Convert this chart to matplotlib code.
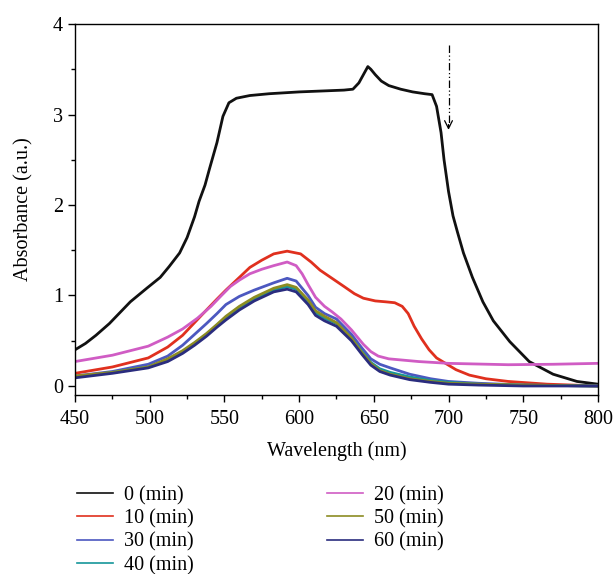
import matplotlib.pyplot as plt
from matplotlib.lines import Line2D
from matplotlib.ticker import MultipleLocator

plt.rcParams['font.family'] = ['Liberation Serif', 'DejaVu Serif']

# spectra (wavelength in nm, absorbance in a.u.)
black_x = [450, 457, 464, 473, 480, 487, 498, 507, 513, 520, 525, 530, 533, 537, 540, 545, 549, 553, 558, 567, 580,
           600, 615, 630, 636, 640, 643, 646, 648, 651, 655, 660, 668, 676, 684, 689, 692, 695, 697,
           700, 703, 706, 710, 716, 723, 730, 741, 754, 770, 786, 800]
black_y = [0.40, 0.47, 0.56, 0.69, 0.81, 0.93, 1.08, 1.20, 1.32, 1.47, 1.64, 1.87, 2.04, 2.22, 2.40, 2.69, 2.98, 3.13, 3.18, 3.21, 3.23,
           3.25, 3.26, 3.27, 3.28, 3.35, 3.44, 3.53, 3.50, 3.44, 3.37, 3.32, 3.28, 3.25, 3.23, 3.22, 3.09, 2.80, 2.50,
           2.15, 1.88, 1.70, 1.47, 1.20, 0.93, 0.72, 0.49, 0.27, 0.13, 0.05, 0.02]

red_x = [450, 475, 499, 512, 522, 530, 538, 545, 551, 560, 567, 575, 583, 592, 601, 608, 614, 622, 630, 637,
         643, 651, 658, 664, 669, 673, 677, 682, 687, 692, 698, 705, 714, 725, 740, 766, 800]
red_y = [0.14, 0.21, 0.31, 0.43, 0.56, 0.70, 0.84, 0.96, 1.06, 1.20, 1.31, 1.39, 1.46, 1.49, 1.46, 1.37, 1.28, 1.19, 1.10, 1.02,
         0.97, 0.94, 0.93, 0.92, 0.88, 0.80, 0.66, 0.52, 0.40, 0.31, 0.25, 0.18, 0.12, 0.08, 0.05, 0.02, 0.0]

mag_x = [450, 475, 499, 512, 522, 532, 541, 548, 554, 560, 567, 575, 583, 592, 598, 602, 606, 611, 617, 622,
         628, 635, 643, 648, 653, 660, 680, 700, 740, 770, 800]
mag_y = [0.27, 0.34, 0.44, 0.54, 0.63, 0.75, 0.88, 1.00, 1.10, 1.17, 1.24, 1.29, 1.33, 1.37, 1.33, 1.24, 1.12, 0.98, 0.88, 0.82,
         0.74, 0.62, 0.46, 0.38, 0.33, 0.30, 0.27, 0.25, 0.235, 0.24, 0.25]

gx = [450, 475, 499, 512, 522, 530, 538, 545, 551, 560, 570, 583, 592, 598, 602, 606, 611, 617, 625, 635,
      642, 648, 654, 661, 674, 688, 700, 720, 750, 800]
blue_y = [0.11, 0.16, 0.24, 0.33, 0.45, 0.57, 0.69, 0.80, 0.90, 0.99, 1.06, 1.14, 1.19, 1.16, 1.08, 1.00, 0.87, 0.80, 0.74, 0.57,
          0.42, 0.30, 0.24, 0.20, 0.13, 0.08, 0.05, 0.03, 0.01, 0.0]
teal_y = [0.10, 0.15, 0.21, 0.29, 0.38, 0.47, 0.57, 0.67, 0.76, 0.87, 0.96, 1.06, 1.10, 1.07, 1.00, 0.93, 0.81, 0.75, 0.69, 0.53,
          0.38, 0.26, 0.19, 0.15, 0.10, 0.06, 0.04, 0.02, 0.01, 0.0]
olive_y = [0.11, 0.15, 0.21, 0.30, 0.39, 0.48, 0.58, 0.68, 0.77, 0.88, 0.98, 1.08, 1.12, 1.09, 1.02, 0.95, 0.83, 0.77, 0.70, 0.53,
           0.37, 0.25, 0.17, 0.13, 0.08, 0.05, 0.03, 0.02, 0.01, 0.0]
navy_y = [0.09, 0.14, 0.20, 0.27, 0.36, 0.45, 0.55, 0.65, 0.73, 0.84, 0.94, 1.04, 1.07, 1.04, 0.97, 0.90, 0.78, 0.72, 0.66, 0.50,
          0.35, 0.23, 0.16, 0.12, 0.07, 0.04, 0.02, 0.01, 0.0, 0.0]

series = [
    ('0 (min)', black_x, black_y, '#111111'),
    ('10 (min)', red_x, red_y, '#e0301e'),
    ('20 (min)', mag_x, mag_y, '#d05cc4'),
    ('30 (min)', gx, blue_y, '#4c58c0'),
    ('40 (min)', gx, teal_y, '#15969a'),
    ('50 (min)', gx, olive_y, '#8c8c22'),
    ('60 (min)', gx, navy_y, '#2a2c7e'),
]
legend_order = ['0 (min)', '10 (min)', '30 (min)', '40 (min)', '20 (min)', '50 (min)', '60 (min)']

# arrow marking the decrease
arrow_x = 700
arrow_top, arrow_tip = 3.77, 2.80

fig = plt.figure(figsize=(6.13, 5.74), dpi=100)
ax = fig.add_axes([0.1224, 0.3118, 0.853, 0.6463])

for label, xs, ys, c in series:
    ax.plot(xs, ys, color=c, lw=2.0, label=label)

ax.plot([arrow_x, arrow_x], [arrow_top, arrow_tip + 0.05], color='black', lw=0.9, linestyle=(0, (6, 2, 1, 2, 1, 2)))
ax.annotate('', xy=(arrow_x, arrow_tip), xytext=(arrow_x, arrow_tip + 0.12),
            arrowprops=dict(arrowstyle='->', color='black', lw=0.9, mutation_scale=14))

ax.set_xlim(450, 800)
ax.set_ylim(-0.1, 4)
ax.xaxis.set_major_locator(MultipleLocator(50))
ax.xaxis.set_minor_locator(MultipleLocator(25))
ax.yaxis.set_major_locator(MultipleLocator(1))
ax.yaxis.set_minor_locator(MultipleLocator(0.5))
ax.tick_params(which='both', direction='out', top=False, right=False, labelsize=14.5, width=1.0)
ax.tick_params(which='major', length=5)
ax.tick_params(which='minor', length=3)
ax.tick_params(axis='x', which='major', pad=5.5)
for s in ax.spines.values():
    s.set_linewidth(1.0)

ax.set_xlabel('Wavelength (nm)', fontsize=14.5, labelpad=9)
ax.set_ylabel('Absorbance (a.u.)', fontsize=14.5, labelpad=14)

colors = {lab: c for lab, _, _, c in series}
handles = [Line2D([], [], color=colors[lab], lw=1.2) for lab in legend_order]
fig.legend(handles, legend_order, loc='upper left', bbox_to_anchor=(0.1256, 0.1533), ncol=2,
           frameon=False, fontsize=14.5, handlelength=1.8, handletextpad=0.55,
           columnspacing=6.6, labelspacing=0.2, borderpad=0, borderaxespad=0)

fig.savefig('out.png', dpi=100)
